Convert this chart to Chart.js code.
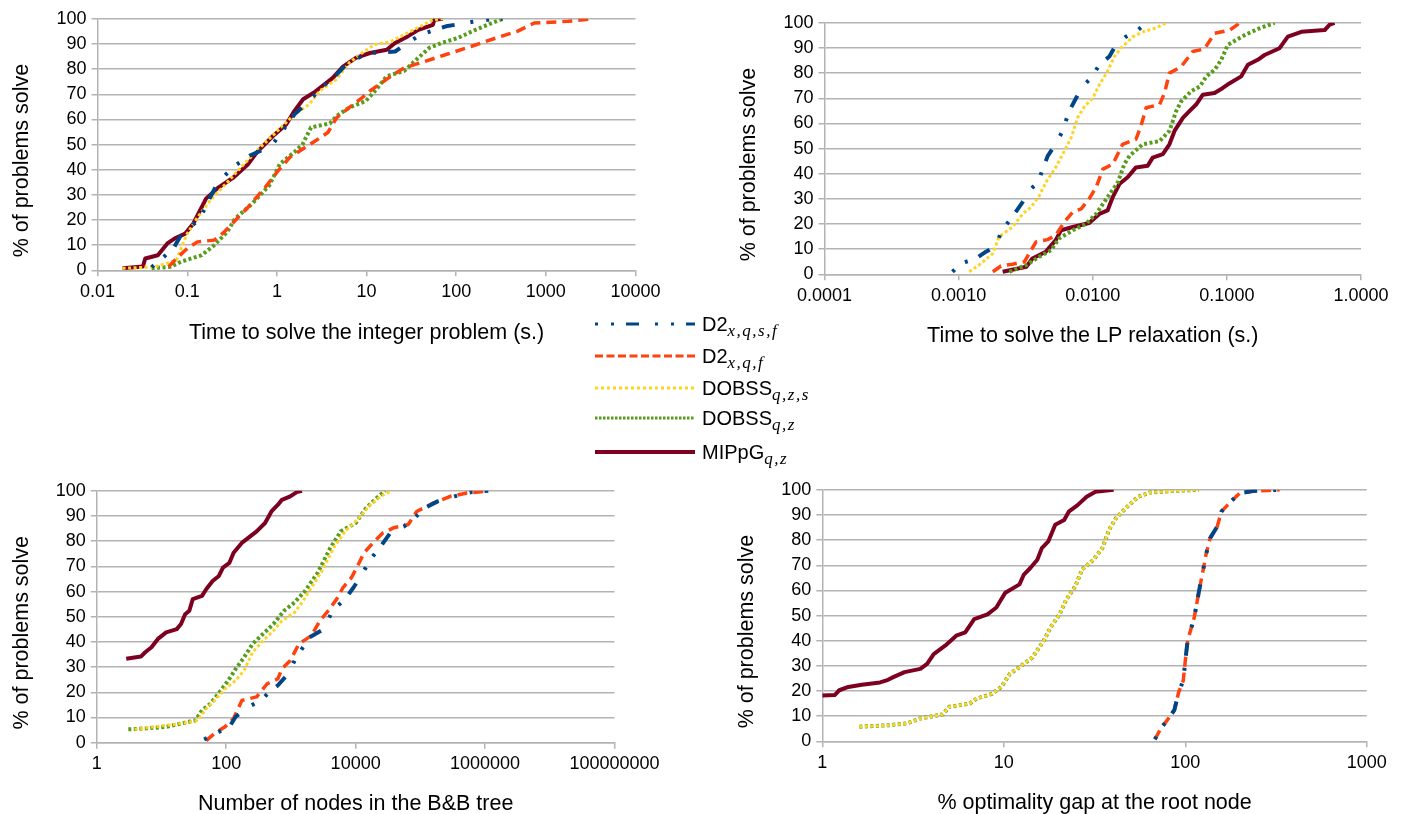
<!DOCTYPE html>
<html>
<head>
<meta charset="utf-8">
<script src="https://cdn.jsdelivr.net/npm/chart.js@4"></script>
<style>
  body { margin: 0; background: #fff; width: 1405px; height: 814px; position: relative; overflow: hidden;
         font-family: "Liberation Sans", Arial, sans-serif; }
  .panel { position: absolute; }
  .legend-row { position: absolute; left: 595px; height: 24px; }
  .legend-row svg { position: absolute; left: 0; top: 7px; }
  .legend-row span { position: absolute; left: 107px; top: 2px; font-size: 20px; line-height: 20px; white-space: nowrap; color: #000; }
  .legend-row sub { font-family: "Liberation Serif", serif; font-style: italic; font-size: 17px; letter-spacing: 1.5px;
                    vertical-align: -5px; line-height: 0; }
</style>
</head>
<body>
<div id="p1" class="panel"><canvas></canvas></div>
<div id="p2" class="panel"><canvas></canvas></div>
<div id="p3" class="panel"><canvas></canvas></div>
<div id="p4" class="panel"><canvas></canvas></div>
<div id="legend"></div>
<script>
// series labels (legend order)
const seriesNames = ['D2<sub>x,q,s,f</sub>', 'D2<sub>x,q,f</sub>', 'DOBSS<sub>q,z,s</sub>', 'DOBSS<sub>q,z</sub>', 'MIPpG<sub>q,z</sub>'];
const yTitle = '% of problems solve';

// --- time to solve the integer problem (s.)
const int_d2xqsf = [[0.04,1.2],[0.055,5.4],[0.072,9.4],[0.085,14],[0.138,20.5],[0.18,29],[0.22,35],[0.34,41.6],[0.5,45.6],[0.87,49.5],[1.08,54],[1.57,62],[2.2,66.7],[3.3,73.3],[4.4,77],[6.4,83],[10.9,86.4],[20.8,87],[28.8,90.4],[40,93.7],[77,97],[146,98.7],[224,99.6],[330,100]];
const int_d2xqf = [[0.062,1.4],[0.076,4.7],[0.1,8.7],[0.13,11.3],[0.2,12],[0.26,15.3],[0.33,19.2],[0.48,25.2],[0.74,33],[1.04,39.7],[1.4,45],[1.94,48.2],[2.7,51.5],[3.7,54.8],[4.65,60.7],[6.4,64.7],[8.9,68.6],[10.9,71.3],[16.8,76],[26.2,80.5],[40,82.5],[77,85.8],[146,89],[280,92.4],[480,95],[740,98.3],[1780,99],[3400,100]];
const int_dobssqzs = [[0.019,0.8],[0.044,1.4],[0.076,4],[0.085,8.7],[0.1,14.6],[0.13,21],[0.18,27.8],[0.28,35],[0.43,42.3],[0.66,49],[1.02,55.5],[1.57,62],[2.3,66],[3.0,71.3],[4.65,76],[6.4,82.5],[8.9,86.4],[12.2,89.7],[18.8,91],[26.2,93.7],[40,97],[55,99.6],[71,100]];
const int_dobssqz = [[0.04,0.8],[0.065,1.4],[0.085,3.4],[0.145,6],[0.2,10],[0.28,15.3],[0.34,20.5],[0.53,26.5],[0.82,33.7],[1.08,42.3],[1.57,47],[1.94,50.2],[2.4,56.8],[3.9,58.4],[4.65,61.4],[6.4,64.7],[9.8,67.3],[12.9,72],[16.8,77.2],[26.2,79.2],[36,83.8],[50,88.4],[69,90.4],[105,92.4],[164,95.6],[250,98.3],[330,100]];
const int_mippg = [[0.019,0.8],[0.032,1.5],[0.034,4.7],[0.047,6],[0.06,10.7],[0.072,12.6],[0.095,14.6],[0.117,18.6],[0.162,28.5],[0.224,33],[0.33,37],[0.48,42.3],[0.6,47],[0.91,53.5],[1.27,58],[1.57,63.4],[1.96,68],[2.57,70.6],[4.2,76.5],[5.46,81],[7.6,84.5],[10.9,86.4],[16.8,87.7],[20.8,90.4],[28.8,93],[37.8,95.6],[55,97.6],[57,99.6],[71,100]];

// --- time to solve the LP relaxation (s.)
const lp_d2xqsf = [[0.0009,1],[0.00104,4.3],[0.00135,6.3],[0.0016,9],[0.0019,11.2],[0.00207,16.8],[0.00232,20.4],[0.0026,24],[0.003,28.7],[0.00337,33.3],[0.0039,36.6],[0.00424,41.8],[0.00461,47],[0.00518,51],[0.00587,56.3],[0.0067,65],[0.0075,70],[0.0084,74.7],[0.0097,78],[0.0112,83.3],[0.0133,86.6],[0.0149,91.2],[0.0177,94.5],[0.0217,97.1],[0.025,100]];
const lp_d2xqf = [[0.0018,1],[0.00207,3.3],[0.00252,4],[0.0031,5],[0.00347,9.6],[0.00378,12.9],[0.0046,13.8],[0.0053,15.5],[0.00614,20.8],[0.00709,24.7],[0.0082,26],[0.0094,30],[0.0106,34.6],[0.0119,41.8],[0.0141,43.8],[0.0167,51.7],[0.021,53.7],[0.0229,59],[0.025,66.2],[0.0315,67.5],[0.0343,72.1],[0.0373,80],[0.0457,82.6],[0.0557,88.6],[0.068,89.6],[0.081,95.8],[0.105,97.1],[0.12,99.3],[0.121,100]];
const lp_dobssqzs = [[0.0012,1],[0.00147,4.3],[0.0018,8.3],[0.002,14.9],[0.00252,18.8],[0.003,24],[0.00347,26.7],[0.004,31.3],[0.00447,36.6],[0.0053,42.5],[0.00614,49],[0.0069,54.3],[0.0077,62.2],[0.0087,66.8],[0.01,70],[0.0112,75.4],[0.0129,80.7],[0.0145,86.6],[0.0162,89.9],[0.02,94.5],[0.0236,96.4],[0.0297,98],[0.0352,100]];
const lp_dobssqz = [[0.00239,1],[0.0032,3.7],[0.004,7],[0.00489,9.6],[0.0056,14.2],[0.0071,17.5],[0.0089,20.1],[0.0106,24],[0.0129,30.7],[0.0154,36.6],[0.0172,43.8],[0.0188,47.1],[0.0236,51.7],[0.0316,53],[0.0373,57],[0.0419,64.9],[0.0457,68.8],[0.0542,72.8],[0.063,74.7],[0.0702,78.7],[0.081,81.3],[0.0908,85.3],[0.1016,91.2],[0.1175,93.2],[0.139,95.4],[0.175,97.8],[0.227,100]];
const lp_mippg = [[0.00213,1],[0.0032,3],[0.00355,6.3],[0.00447,9],[0.0053,13.6],[0.0058,17.5],[0.0071,18.8],[0.0094,20.4],[0.0112,24],[0.0129,25.4],[0.0141,30.7],[0.0158,35.9],[0.0182,38.6],[0.021,42.5],[0.0257,43.2],[0.028,46.4],[0.0333,47.8],[0.0373,51.7],[0.0407,57],[0.047,62.2],[0.0526,64.9],[0.059,67.5],[0.0662,71.4],[0.081,72.1],[0.0933,74.1],[0.105,76],[0.128,78.7],[0.1435,83.3],[0.17,85.3],[0.191,87.2],[0.247,89.9],[0.285,94.5],[0.359,96.4],[0.536,97.1],[0.584,99.3],[0.635,100]];

// --- number of nodes in the B&B tree
const nodes_d2xqsf = [[45.6,1.3],[77,4.3],[112,6.3],[140,10.3],[219,14.2],[344,16.8],[464,20.1],[630,22.8],[910,27.4],[1140,32.6],[1425,36.6],[1930,41.8],[3240,45.1],[4380,52.4],[6870,57],[9270,61.6],[12500,66.8],[16900,72.8],[24500,78],[35700,83.9],[56000,85.9],[81300,89.2],[118000,93.2],[185000,95.8],[337000,97.8],[616000,99.5],[1120000,100]];
const nodes_d2xqf = [[49,0.8],[66,3.7],[96,6.3],[130,9.6],[175,16.8],[295,18.2],[430,23.4],[630,25.4],[724,29.3],[977,32.6],[1325,39.2],[2075,42.5],[2800,48.4],[3780,52.4],[5090,57],[6380,61.6],[8600,65.5],[10700,70.1],[13500,75.4],[19600,80],[26500,83.3],[38500,85.3],[65000,86.6],[87700,91.8],[158000,95.1],[290000,97.8],[525000,99.1],[955000,99.7]];
const nodes_dobssqzs = [[3.85,5.3],[9.5,6.6],[20,7.6],[36.4,8.9],[49,13.5],[66,16.8],[96,21.4],[140,24.7],[189,28.7],[255,35.9],[371,40.5],[537,44.5],[725,48.4],[1140,51.7],[1540,56.3],[2075,61.6],[3020,68.2],[4730,78],[6870,83.9],[10700,88.6],[16900,94.5],[24500,97.8],[35700,100]];
const nodes_dobssqz = [[3.07,5.3],[6,5.7],[11.8,6.3],[20,7.6],[33.7,8.9],[42.3,12.9],[57,15.5],[83,20.8],[112,25.4],[140,29.3],[189,33.9],[255,39.2],[371,43.2],[537,47.1],[783,52.4],[1140,55.7],[1660,60.3],[2600,67.5],[4070,77.4],[5900,83.9],[10000,87.2],[14550,93.2],[21100,97.1],[28500,100]];
const nodes_mippg = [[2.85,33.3],[4.8,34.2],[5.6,35.9],[7,37.9],[8.8,41.2],[11.8,43.8],[17.2,45.1],[20,47.1],[23.2,51],[26.9,52.4],[30.4,57],[42.3,58.3],[49,60.9],[61.6,64.2],[77,66.2],[89,69.5],[112,71.4],[130,75.4],[174,79.3],[219,81.3],[295,83.9],[398,87.2],[500,91.8],[630,94.5],[724,96.4],[977,97.8],[1230,99.5],[1480,100]];

// --- % optimality gap at the root node
const gap_d2xqsf = [[68,0.8],[73.3,5.1],[79.5,8.4],[87,12.4],[92,19.6],[97.5,24.2],[100,32.1],[103,40],[112,49.2],[119,59.7],[126,68.9],[130,74.2],[137,80.8],[150,85.4],[158,91.3],[178,95.3],[199,98.6],[236,99.5],[331,100]];
const gap_d2xqf = [[68,0.8],[73.3,5.1],[79.5,8.4],[87,12.4],[92,19.6],[97.5,24.2],[100,32.1],[103,40],[112,49.2],[119,59.7],[126,68.9],[130,74.2],[137,80.8],[150,85.4],[158,91.3],[178,95.3],[199,98.6],[236,99.5],[331,100]];
const gap_dobssqzs = [[1.6,5.8],[2.33,6.4],[2.92,7.1],[3.47,9.1],[4.61,10.7],[5.0,13.7],[6.49,15],[7.08,17],[8.64,18.9],[9.68,21.6],[10.8,26.8],[12.2,29.5],[14.4,33.4],[16.6,40],[18.1,45.3],[20.3,50.5],[22.1,56.4],[24.8,61.7],[27,68.3],[31.2,72.2],[34.9,76.8],[38,84.1],[41.5,88.7],[47.9,93.3],[55,97.2],[63.5,98.9],[84.5,99.5],[119,100]];
const gap_dobssqz = [[1.6,5.8],[2.33,6.4],[2.92,7.1],[3.47,9.1],[4.61,10.7],[5.0,13.7],[6.49,15],[7.08,17],[8.64,18.9],[9.68,21.6],[10.8,26.8],[12.2,29.5],[14.4,33.4],[16.6,40],[18.1,45.3],[20.3,50.5],[22.1,56.4],[24.8,61.7],[27,68.3],[31.2,72.2],[34.9,76.8],[38,84.1],[41.5,88.7],[47.9,93.3],[55,97.2],[63.5,98.9],[84.5,99.5],[119,100]];
const gap_mippg = [[1.0,18.2],[1.17,18.4],[1.24,20.3],[1.39,21.6],[1.65,22.5],[2.08,23.4],[2.26,24.2],[2.46,25.5],[2.84,27.5],[3.47,28.8],[3.78,30.8],[4.11,34.7],[4.75,38],[5.47,42],[6.13,43.3],[6.87,48.6],[8.13,50.5],[9.1,53.2],[9.67,56.4],[10.2,59.1],[12.2,62.4],[12.9,66.3],[14,68.9],[15.3,72.2],[16.2,76.8],[17.6,79.5],[19.2,86.1],[21.5,88],[22.8,91.3],[25.5,93.9],[28.6,97.2],[32,99.2],[40.3,100]];

// x tick labels
const intTicks = [0.01, 0.1, 1, 10, 100, 1000, 10000];
const lpTicks = [0.0001, 0.001, 0.01, 0.1, 1];
const nodeTicks = [1, 100, 10000, 1000000, 100000000];
const gapTicks = [1, 10, 100, 1000];
const yTicks = [0, 10, 20, 30, 40, 50, 60, 70, 80, 90, 100];

// line styles, same order as seriesNames
const lineStyles = [
    { color: '#004586', width: 4, dash: [3, 13, 3, 12, 13, 16] },
    { color: '#ff420e', width: 3.5, dash: [10, 6] },
    { color: '#ffd320', width: 3, dash: [3, 2.5] },
    { color: '#579d1c', width: 4, dash: [3, 2.5] },
    { color: '#7e0021', width: 4, dash: [] }
];
const legendDashes = [[3, 13, 3, 12, 13, 16], [8, 3.5], [3, 3], [2.5, 1.5], []];

const panels = [
    { id: 'p1', box: [10, 3, 660, 341], yW: 87.6, xH: 73.7, pad: { top: 14.3, right: 34.5 }, yTitleX: 12.5,
      ticks: intTicks, fmt: v => String(v), title: 'Time to solve the integer problem (s.)',
      series: [int_d2xqsf, int_d2xqf, int_dobssqzs, int_dobssqz, int_mippg] },
    { id: 'p2', box: [739, 7, 661, 340], yW: 85.5, xH: 72.7, pad: { top: 14, right: 39 }, yTitleX: 10.5,
      ticks: lpTicks, fmt: v => v.toFixed(4), title: 'Time to solve the LP relaxation (s.)',
      series: [lp_d2xqsf, lp_d2xqf, lp_dobssqzs, lp_dobssqz, lp_mippg] },
    { id: 'p3', box: [11, 475, 659, 340], yW: 85.8, xH: 72.3, pad: { top: 14.3, right: 55.5 }, yTitleX: 11,
      ticks: nodeTicks, fmt: v => String(v), title: 'Number of nodes in the B&B tree',
      series: [nodes_d2xqsf, nodes_d2xqf, nodes_dobssqzs, nodes_dobssqz, nodes_mippg] },
    { id: 'p4', box: [736, 474, 664, 340], yW: 86.3, xH: 72.7, pad: { top: 14, right: 33.2 }, yTitleX: 11,
      ticks: gapTicks, fmt: v => String(v), title: '% optimality gap at the root node',
      series: [gap_d2xqsf, gap_d2xqf, gap_dobssqzs, gap_dobssqz, gap_mippg] }
];

const gridColor = '#b3b3b3';
const fontFamily = '"Liberation Sans", Arial, sans-serif';
const tickFont = { family: fontFamily, size: 18 };
const titleFont = { family: fontFamily, size: 21.5, lineHeight: 1 };

// the y title sits a bit below the middle of the plot in the original
const yTitlePlugin = {
    id: 'yTitle',
    afterDraw: function(chart, args, opts) {
        let ctx = chart.ctx;
        let area = chart.chartArea;
        ctx.save();
        ctx.translate(opts.x, (area.top + area.bottom) / 2 + opts.shift);
        ctx.rotate(-Math.PI / 2);
        ctx.font = titleFont.size + 'px ' + fontFamily;
        ctx.fillStyle = '#000';
        ctx.textAlign = 'center';
        ctx.textBaseline = 'middle';
        ctx.fillText(yTitle, 0, 0);
        ctx.restore();
    }
};

function makeChart(p) {
    let div = document.getElementById(p.id);
    div.style.left = p.box[0] + 'px';
    div.style.top = p.box[1] + 'px';
    div.style.width = p.box[2] + 'px';
    div.style.height = p.box[3] + 'px';

    let datasets = p.series.map(function(s, i) {
        return {
            label: seriesNames[i],
            data: s.map(pt => ({ x: pt[0], y: pt[1] })),
            borderColor: lineStyles[i].color,
            borderWidth: lineStyles[i].width,
            borderDash: lineStyles[i].dash,
            borderCapStyle: 'butt',
            borderJoinStyle: 'round',
            pointRadius: 0,
            tension: 0,
            fill: false
        };
    });

    return new Chart(div.querySelector('canvas'), {
        type: 'line',
        data: { datasets: datasets },
        plugins: [yTitlePlugin],
        options: {
            responsive: true,
            maintainAspectRatio: false,
            animation: false,
            devicePixelRatio: 1,
            layout: { padding: { left: 0, top: p.pad.top, right: p.pad.right, bottom: 0 } },
            plugins: {
                legend: { display: false },
                tooltip: { enabled: false },
                yTitle: { x: p.yTitleX, shift: 16 }
            },
            scales: {
                x: {
                    type: 'logarithmic',
                    min: p.ticks[0],
                    max: p.ticks[p.ticks.length - 1],
                    afterBuildTicks: s => { s.ticks = p.ticks.map(v => ({ value: v })); },
                    afterFit: s => { s.height = p.xH; },
                    ticks: { callback: v => p.fmt(v), autoSkip: false, maxRotation: 0, minRotation: 0,
                             padding: 5, color: '#000', font: tickFont },
                    grid: { drawOnChartArea: false, drawTicks: true, tickLength: 6, color: gridColor, lineWidth: 1.5 },
                    border: { color: gridColor, width: 1.5 },
                    title: { display: true, text: p.title, color: '#000', font: titleFont, padding: 0 }
                },
                y: {
                    min: 0,
                    max: 100,
                    afterBuildTicks: s => { s.ticks = yTicks.map(v => ({ value: v })); },
                    afterFit: s => { s.width = p.yW; },
                    ticks: { autoSkip: false, padding: 5, color: '#000', font: tickFont },
                    grid: { color: gridColor, lineWidth: 1.5, tickLength: 6 },
                    border: { color: gridColor, width: 1.5 }
                }
            }
        }
    });
}

panels.forEach(makeChart);

// shared legend
const legendRows = [324, 356, 388, 418, 452];
let legend = document.getElementById('legend');
seriesNames.forEach(function(name, i) {
    let st = lineStyles[i];
    let row = document.createElement('div');
    row.className = 'legend-row';
    row.style.top = (legendRows[i] - 12) + 'px';
    row.innerHTML =
        '<svg width="101" height="10"><line x1="0" y1="5" x2="100" y2="5" stroke="' + st.color +
        '" stroke-width="' + (i === 4 ? 4 : 3) + '" stroke-dasharray="' + legendDashes[i].join(' ') + '"/></svg>' +
        '<span>' + name + '</span>';
    legend.appendChild(row);
});
</script>
</body>
</html>
